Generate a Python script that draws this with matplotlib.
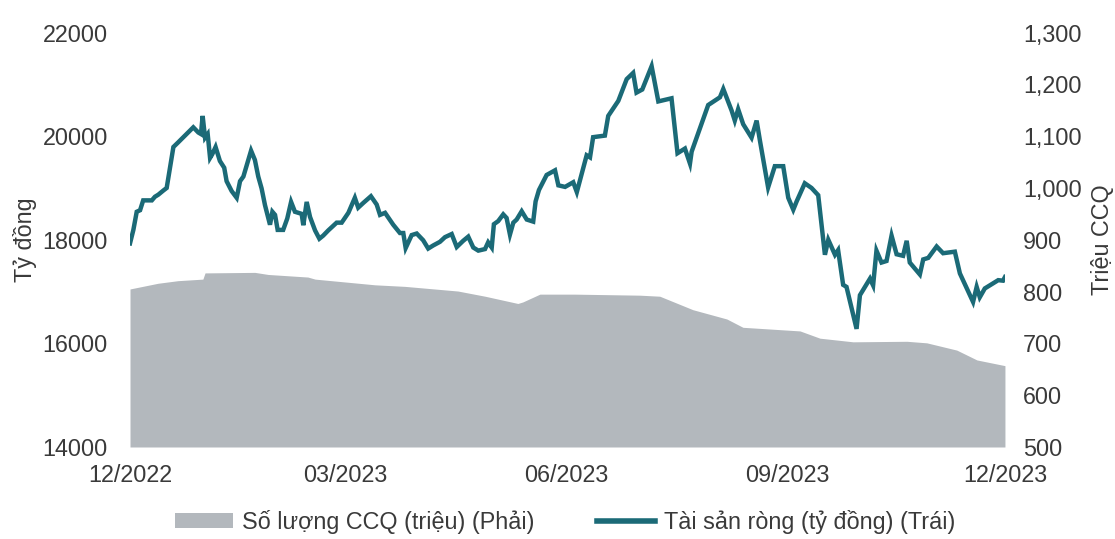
import pandas as pd
import numpy as np
import matplotlib
matplotlib.use("Agg")
import matplotlib.pyplot as plt
import matplotlib.dates as mdates
from matplotlib.patches import Patch
from matplotlib.lines import Line2D
from matplotlib.ticker import FuncFormatter

plt.rcParams['font.family'] = ['Liberation Sans', 'DejaVu Sans']

# ngay tinh tu 01/12/2022
start = pd.Timestamp('2022-12-01')

# Tai san rong (ty dong) - truc trai
nav_days = [0, 1.4, 2.8, 4.2, 5.5, 9.1, 10.4, 11.8, 13.9, 15.3,
            16.7, 18.1, 20.1, 26.4, 28.5, 29.6, 30.3, 31.3, 32.4, 33.4,
            34.3, 35.7, 37.5, 39.3, 40.3, 42.4, 44.5, 45.9, 47.3, 50.5,
            52.1, 53.5, 54.9, 56.3, 58.4, 59.4, 60.5, 61.6, 63.9, 65.6,
            67.2, 68.8, 71.6, 72.3, 73.7, 75.1, 77.2, 79.0, 80.6, 82.7,
            86.2, 88.3, 91.1, 93.8, 95.2, 97.3, 100.5, 102.9, 104.3, 106.4,
            109.8, 112.6, 114.0, 115.0, 117.5, 119.6, 122.3, 124.4, 126.5, 129.3,
            131.4, 134.2, 136.3, 139.0, 141.1, 143.2, 145.3, 148.1, 149.4, 150.9,
            151.8, 153.6, 155.7, 157.1, 158.5, 159.9, 161.3, 163.4, 165.5, 168.2,
            169.2, 170.6, 173.8, 177.3, 178.7, 181.5, 184.9, 186.4, 190.5, 191.9,
            193.2, 198.1, 199.5, 203.7, 207.2, 209.9, 211.3, 213.7, 217.6, 220.4,
            225.9, 228.4, 231.5, 233.6, 234.3, 241.2, 246.1, 247.5, 251.0, 252.3,
            253.7, 255.8, 259.3, 261.4, 262.8, 266.2, 269.0, 272.5, 274.6, 276.7,
            278.1, 281.5, 284.3, 287.1, 289.9, 291.3, 294.1, 295.4, 297.5, 298.9,
            303.1, 304.5, 308.7, 310.0, 311.4, 313.5, 315.6, 317.7, 319.8, 322.5,
            324.0, 325.3, 329.5, 330.9, 333.0, 336.5, 339.2, 344.1, 346.2, 351.7,
            353.2, 354.5, 356.6, 362.2, 364.2, 365]
nav = [17930, 18190, 18540, 18570, 18760, 18760, 18830, 18870, 18950, 19000,
       19400, 19790, 19880, 20170, 20070, 20040, 20390, 19970, 20040, 19580,
       19650, 19790, 19520, 19390, 19130, 18940, 18810, 19130, 19220, 19720,
       19540, 19220, 18990, 18670, 18290, 18540, 18480, 18190, 18190, 18410,
       18730, 18540, 18500, 18280, 18730, 18440, 18180, 18020, 18080, 18180,
       18330, 18330, 18520, 18810, 18620, 18710, 18840, 18680, 18480, 18520,
       18290, 18130, 18130, 17840, 18090, 18120, 17990, 17830, 17890, 17960,
       18050, 18110, 17860, 17980, 18060, 17850, 17790, 17820, 17950, 17850,
       18300, 18360, 18490, 18420, 18100, 18330, 18390, 18550, 18390, 18350,
       18740, 18960, 19250, 19340, 19050, 19020, 19110, 18920, 19630, 19590,
       19980, 20010, 20390, 20680, 21100, 21220, 20840, 20900, 21350, 20670,
       20730, 19670, 19760, 19470, 19700, 20600, 20750, 20910, 20490, 20300,
       20520, 20230, 19970, 20300, 19910, 19010, 19420, 19420, 18810, 18580,
       18740, 19090, 19000, 18860, 17710, 18000, 17710, 17800, 17130, 17090,
       16280, 16930, 17250, 17120, 17790, 17560, 17590, 18080, 17720, 17690,
       17980, 17560, 17330, 17620, 17650, 17870, 17740, 17770, 17350, 16800,
       17090, 16890, 17060, 17220, 17210, 17280]

# So luong CCQ (trieu) - truc phai
ccq_days = [0, 11.7, 20, 30.4, 31.3, 52.1, 57.6, 74.2, 77.2, 102.2,
            114.7, 136.8, 148.1, 161.8, 163.9, 171, 185.6, 212.7, 221, 234.8,
            249, 255.7, 279.5, 287.8, 301.6, 324.1, 332.4, 344.9, 353.3, 365]
ccq = [805, 816, 821, 824, 836, 837, 833, 828, 824, 813,
       810, 801, 791, 777, 780, 795, 795, 793, 791, 765,
       747, 731, 724, 710, 703, 704, 701, 687, 668, 657]

tick_dates = ['2022-12-01', '2023-03-01', '2023-06-01', '2023-09-01', '2023-12-01']

nav_x = start + pd.to_timedelta(nav_days, unit='D')
ccq_x = start + pd.to_timedelta(ccq_days, unit='D')

line_col = '#1b6a77'
gray_col = '#b3b8bd'
txt_col = '#3a3a3a'
fs = 16.8

fig = plt.figure(figsize=(11.15, 5.39), dpi=100)
ax = fig.add_axes([0.1166, 0.1707, 0.9013 - 0.1166, 0.9397 - 0.1707])
ax2 = ax.twinx()

ax2.fill_between(ccq_x, 500, ccq, color=gray_col, linewidth=0)
ax.plot(nav_x, nav, color=line_col, linewidth=3.2, solid_joinstyle='miter')

ax.set_zorder(ax2.get_zorder() + 1)
ax.patch.set_visible(False)

ax.set_ylim(14000, 22000)
ax.set_yticks([14000, 16000, 18000, 20000, 22000])
ax2.set_ylim(500, 1300)
ax2.set_yticks(np.arange(500, 1301, 100))
ax2.yaxis.set_major_formatter(FuncFormatter(lambda v, p: f'{int(v):,}'))

ax.set_xlim(pd.Timestamp('2022-12-01'), pd.Timestamp('2023-12-01'))
ax.set_xticks(pd.to_datetime(tick_dates))
ax.xaxis.set_major_formatter(mdates.DateFormatter('%m/%Y'))

for a in (ax, ax2):
    for s in a.spines.values():
        s.set_visible(False)
    a.tick_params(length=0, labelsize=fs, colors=txt_col)
ax.tick_params(axis='y', pad=16)
ax2.tick_params(axis='y', pad=13)
ax.tick_params(axis='x', pad=12)

ax.set_ylabel('Tỷ đồng', fontsize=fs, color=txt_col, labelpad=4)
ax2.set_ylabel('Triệu CCQ', fontsize=fs, color=txt_col, labelpad=7)

handles = [Patch(facecolor=gray_col, edgecolor='none'),
           Line2D([0], [0], color=line_col, linewidth=4)]
labels = ['Số lượng CCQ (triệu) (Phải)', 'Tài sản ròng (tỷ đồng) (Trái)']
fig.legend(handles, labels, loc='center', bbox_to_anchor=(0.507, 0.032), ncol=2,
           frameon=False, fontsize=fs, handlelength=2.45, handleheight=0.55,
           handletextpad=0.4, columnspacing=2.7, labelcolor=txt_col)

fig.savefig('out.png', dpi=100)
